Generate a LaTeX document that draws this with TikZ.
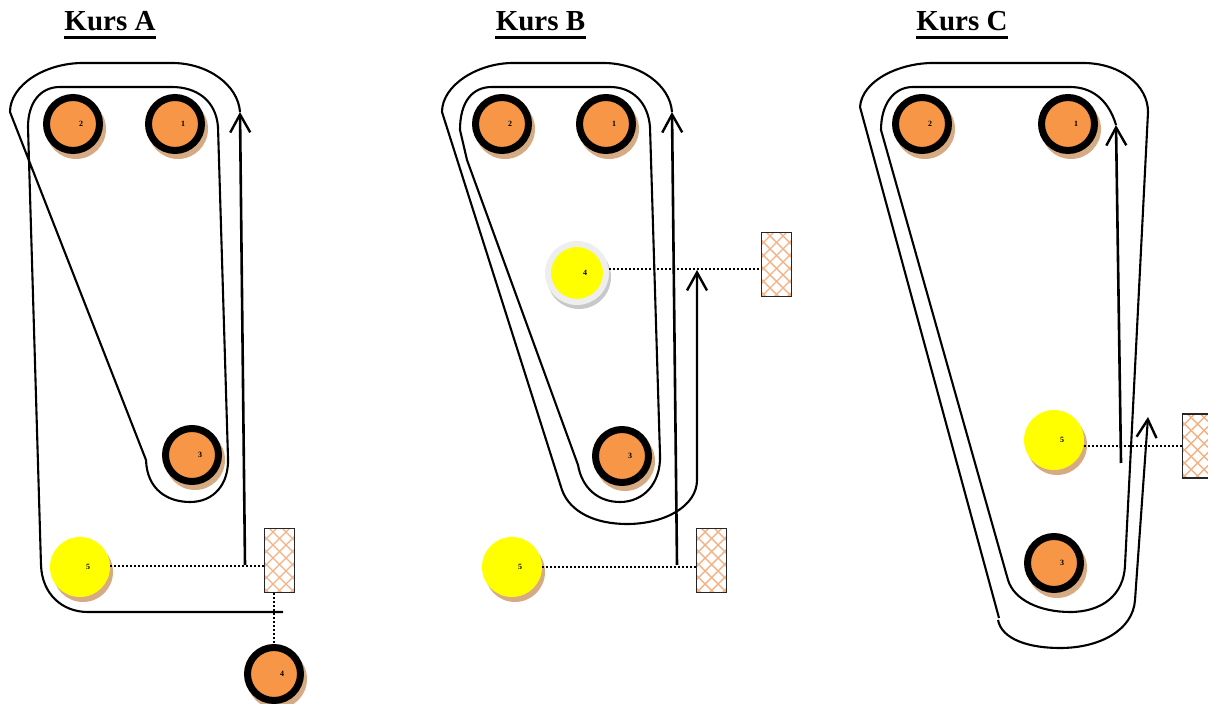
\documentclass[tikz,border=0pt]{standalone}
\usepackage{fontspec}
\setmainfont{Liberation Serif}
\usetikzlibrary{arrows.meta}
\definecolor{orangefill}{RGB}{247,150,70}
\definecolor{shadowc}{RGB}{214,170,130}
\definecolor{hatchc}{RGB}{244,177,131}
\definecolor{yellowfill}{RGB}{255,255,0}
\definecolor{ringgray}{RGB}{238,238,238}
\definecolor{ringshadow}{RGB}{200,200,200}
\newcommand\circlab[1]{\makebox[0pt][l]{\hspace{3pt}\raisebox{-1.5pt}{#1}}}
\begin{document}
\begin{tikzpicture}[x=0.5pt,y=-0.5pt,
  course/.style={line width=1.05pt, black, line join=round},
  barb/.style={-{Straight Barb[length=9pt,width=10pt,line width=1.2pt]}},
  arrowline/.style={line width=1.3pt, barb},
  orangec/.style={circle, draw=black, line width=3.5pt, fill=orangefill, minimum size=26.5pt, inner sep=0pt, font=\fontsize{4}{4}\selectfont\bfseries},
  yellowc/.style={circle, fill=yellowfill, minimum size=30pt, inner sep=0pt, font=\fontsize{4}{4}\selectfont\bfseries},
  yellowring/.style={circle, fill=yellowfill, draw=ringgray, line width=3pt, minimum size=29pt, inner sep=0pt, font=\fontsize{4}{4}\selectfont\bfseries},
  hatchbox/.style={rectangle, draw=black!85, line width=0.9pt, minimum width=15pt, minimum height=32pt, inner sep=0pt,
    path picture={\foreach \k in {-7,...,7}{
      \draw[hatchc,line width=0.7pt] ([xshift=\k*6.5pt]path picture bounding box.south west) -- ++(45pt,45pt);
      \draw[hatchc,line width=0.7pt] ([xshift=\k*6.5pt]path picture bounding box.south east) -- ++(-45pt,45pt);}}},
  dotline/.style={line width=1pt, dash pattern=on 1pt off 1pt},
  titlestyle/.style={font=\fontsize{14.5}{16}\selectfont\bfseries, inner sep=0pt, anchor=base}]
\useasboundingbox (0,0) rectangle (1208,704);

% titles
\node[titlestyle] (tA) at (110,31) {Kurs A};
\node[titlestyle] (tB) at (540.5,31) {Kurs B};
\node[titlestyle] (tC) at (962,31) {Kurs C};
\foreach \t in {tA,tB,tC}
  \draw[line width=1.5pt] ([yshift=-3.5pt]\t.base west) -- ([yshift=-3.5pt]\t.base east);

% shadows
\foreach \x/\y in {73/124,175/124,192/455,274/674,502/124,606/124,622/456,922/124,1068/124,1054/563,80/567,512/567,1054/440}
  \fill[shadowc] (\x+3,\y+5) circle[radius=15pt];
\fill[ringshadow] (579,277) circle[radius=16pt];

% ---------------- Kurs A ----------------
\draw[course] (240,112) .. controls (238,85) and (208,63) .. (172,63) -- (83,63)
  .. controls (45,63) and (10,85) .. (10,112) -- (146,460)
  .. controls (147,490) and (168,502) .. (190,502)
  .. controls (214,502) and (229,484) .. (228,458) -- (218,127)
  .. controls (216,100) and (196,87) .. (172,87) -- (60,87)
  .. controls (40,87) and (28,103) .. (28,127) -- (41,565)
  .. controls (42,594) and (62,612) .. (88,612) -- (283,612);
\draw[arrowline] (245,565) -- (240,112);

\node[orangec] (oA1) at (73,124) {\circlab{2}};
\node[orangec] (oA2) at (175,124) {\circlab{1}};
\node[orangec] (oA3) at (192,455) {\circlab{3}};
\node[yellowc] (yA) at (80,567) {\circlab{5}};
\node[orangec] (oA4) at (274,674) {\circlab{4}};
\node[hatchbox] (rA) at (279.5,560.5) {};
\coordinate (dA) at ([yshift=0.5pt]yA.east);
\draw[dotline] (dA) -- (rA.west |- dA);
\draw[dotline] (rA.south -| oA4.north) -- (oA4.north);

% ---------------- Kurs B ----------------
\draw[course, barb] (672,112) .. controls (670,85) and (640,63) .. (603,63) -- (513,63)
  .. controls (478,63) and (442,85) .. (442,112) -- (562,490)
  .. controls (570,512) and (595,524) .. (627,524)
  .. controls (665,524) and (697,506) .. (697,480) -- (697,270);
\draw[arrowline] (677,565) -- (672,112);
\draw[course] (460,130) .. controls (460,102) and (472,87) .. (492,87) -- (610,87)
  .. controls (632,87) and (648,102) .. (650,127) -- (660,455)
  .. controls (661,484) and (643,502) .. (620,502)
  .. controls (598,502) and (582,488) .. (578,465) -- (467,160) -- (460,130);

\node[orangec] (oB1) at (502,124) {\circlab{2}};
\node[orangec] (oB2) at (606,124) {\circlab{1}};
\node[orangec] (oB3) at (622,456) {\circlab{3}};
\node[yellowring] (yB4) at (577,273) {\circlab{4}};
\node[yellowc] (yB5) at (512,567) {\circlab{5}};
\node[hatchbox] (rB1) at (776.5,264.5) {};
\node[hatchbox] (rB2) at (711.5,560.5) {};
\coordinate (dB4) at ([yshift=2pt]yB4.east);
\draw[dotline] (dB4) -- (rB1.west |- dB4);
\draw[dotline] (yB5.east) -- (rB2.west |- yB5.east);

% ---------------- Kurs C ----------------
\draw[course] (1116,125) .. controls (1108,98) and (1090,87) .. (1070,87) -- (913,87)
  .. controls (893,87) and (881,105) .. (881,130) -- (1008,580)
  .. controls (1014,600) and (1040,612) .. (1070,612)
  .. controls (1102,612) and (1124,595) .. (1125,565) -- (1148,112)
  .. controls (1148,85) and (1120,63) .. (1083,63) -- (933,63)
  .. controls (900,63) and (862,80) .. (860,107) -- (999,618);
\draw[arrowline] (1121,463) -- (1116,125);
\draw[course, barb] (998,620) .. controls (1002,640) and (1030,648) .. (1060,648)
  .. controls (1100,648) and (1133,630) .. (1135,600) -- (1148,417);

\node[orangec] (oC1) at (922,124) {\circlab{2}};
\node[orangec] (oC2) at (1068,124) {\circlab{1}};
\node[yellowc] (yC) at (1054,440) {\circlab{5}};
\node[orangec] (oC3) at (1054,563) {\circlab{3}};
\node[hatchbox] (rC) at (1197.5,446) {};
\coordinate (dC) at ([yshift=-3pt]yC.east);
\draw[dotline] (dC) -- (rC.west |- dC);
\end{tikzpicture}
\end{document}
